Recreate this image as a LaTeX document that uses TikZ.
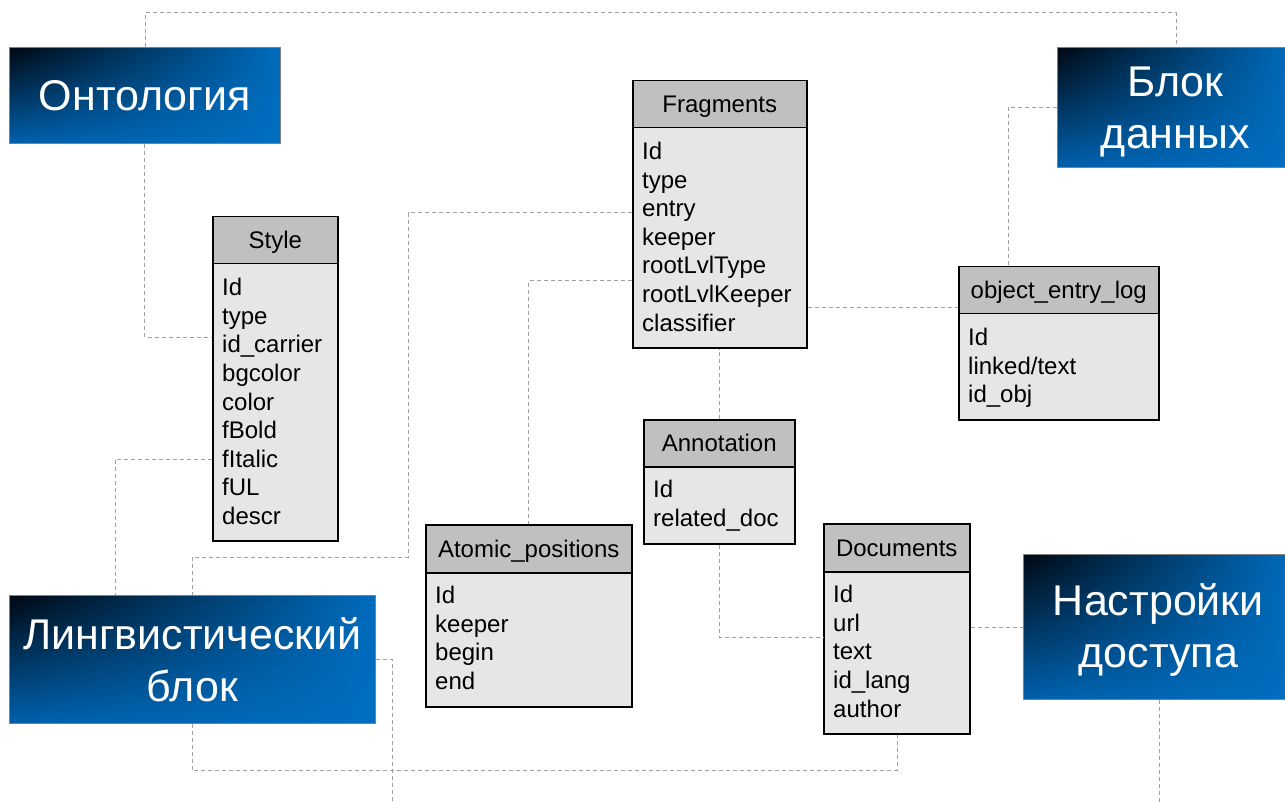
\documentclass[tikz,border=0pt]{standalone}
\usepackage{fontspec}
\setmainfont{Liberation Sans}
\usetikzlibrary{calc,shadings}
\definecolor{hdrgray}{RGB}{192,192,192}
\definecolor{bodygray}{RGB}{230,230,230}
\definecolor{conngray}{RGB}{160,160,160}
\definecolor{bul}{RGB}{0,8,18}
\definecolor{bur}{RGB}{0,108,190}
\definecolor{bll}{RGB}{0,96,172}
\definecolor{blr}{RGB}{0,110,192}
\begin{document}
\begin{tikzpicture}[x=1pt,y=-1pt,
  tblhead/.style={draw=black, line width=1.5pt, fill=hdrgray, anchor=north west, inner sep=0pt, minimum height=47pt, text height=17.2pt, text depth=0pt, font=\fontsize{24}{28.6}\selectfont},
  tblbody/.style={draw=black, line width=1.5pt, fill=bodygray, anchor=north west, inner sep=0pt},
  rowtext/.style={anchor=base west, inner sep=0pt, font=\fontsize{24}{28.6}\selectfont},
  blockbox/.style={draw=gray, line width=0.8pt, anchor=north west, upper left=bul, upper right=bur, lower left=bll, lower right=blr, text=white, align=center, inner sep=0pt, font=\fontsize{43}{52}\selectfont},
  conn/.style={draw=conngray, line width=1pt, dash pattern=on 4pt off 3pt}]
\useasboundingbox (0,0) rectangle (1285,802);

% blue blocks
\node[blockbox, minimum width=271pt, minimum height=96pt] (onto) at (9,47) {Онтология};
\node[blockbox, minimum width=236pt, minimum height=120pt] (blok) at (1057,47) {\rule{0pt}{38pt}Блок\\данных};
\node[blockbox, minimum width=366pt, minimum height=128pt] (ling) at (9,595) {Лингвистический\\блок};
\node[blockbox, minimum width=270pt, minimum height=145pt] (nast) at (1023,554) {\rule{0pt}{38pt}Настройки\\доступа};

% Style
\node[tblhead, minimum width=125pt] (styH) at (212,216) {Style};
\node[tblbody, minimum width=125pt, minimum height=277pt] (styB) at (212,263) {};
\foreach \t [count=\i] in {Id,type,id\_carrier,bgcolor,color,fBold,fItalic,fUL,descr}
  \node[rowtext] (sty-\i) at (222,{263+32.6+(\i-1)*28.6}) {\t};

% Fragments
\node[tblhead, minimum width=174pt] (fraH) at (632,80) {Fragments};
\node[tblbody, minimum width=174pt, minimum height=220pt] (fraB) at (632,127) {};
\foreach \t [count=\i] in {Id,type,entry,keeper,rootLvlType,rootLvlKeeper,classifier}
  \node[rowtext] (fra-\i) at (642,{127+32.6+(\i-1)*28.6}) {\t};

% object_entry_log
\node[tblhead, minimum width=200pt] (oelH) at (958,266) {object\_entry\_log};
\node[tblbody, minimum width=200pt, minimum height=106pt] (oelB) at (958,313) {};
\foreach \t [count=\i] in {Id,{linked/text},id\_obj}
  \node[rowtext] (oel-\i) at (968,{313+32.6+(\i-1)*28.6}) {\t};

% Annotation
\node[tblhead, minimum width=151pt] (annH) at (643,419) {Annotation};
\node[tblbody, minimum width=151pt, minimum height=77pt] (annB) at (643,466) {};
\foreach \t [count=\i] in {Id,related\_doc}
  \node[rowtext] (ann-\i) at (653,{466+31.6+(\i-1)*28.6}) {\t};

% Atomic_positions
\node[tblhead, minimum width=206pt, minimum height=48pt] (atoH) at (425,524) {Atomic\_positions};
\node[tblbody, minimum width=206pt, minimum height=134pt] (atoB) at (425,572) {};
\foreach \t [count=\i] in {Id,keeper,begin,end}
  \node[rowtext] (ato-\i) at (435,{572+31.6+(\i-1)*28.6}) {\t};

% Documents
\node[tblhead, minimum width=146pt, minimum height=48pt] (docH) at (823,523) {Documents};
\node[tblbody, minimum width=146pt, minimum height=162pt] (docB) at (823,571) {};
\foreach \t [count=\i] in {Id,url,text,id\_lang,author}
  \node[rowtext] (doc-\i) at (833,{571+31.6+(\i-1)*28.6}) {\t};

% connectors
\draw[conn] ([xshift=0.5pt]onto.north) -- ++(0,-34) -| ([xshift=1pt]blok.north);
\draw[conn] (onto.south) |- ($(styB.north west)+(0,74)$);
\draw[conn] (blok.west) -| ($(oelH.north west)+(50,0)$);
\draw[conn] ($(fraB.north east)+(0,181)$) coordinate (f4) -- (f4 -| oelH.west);
\draw[conn] ($(fraB.north west)+(0,86)$) -- ++(-224,0) -- ++(0,344) -| (ling.north);
\draw[conn] ($(fraB.north west)+(0,154)$) -| (atoH.north);
\draw[conn] ($(styB.north west)+(0,196)$) -| ($(ling.north west)+(106,0)$);
\draw[conn] (annH.north) -- (annH.north |- fraB.south);
\draw[conn] (annB.south) |- ($(docB.north west)+(0,66)$);
\draw[conn] ($(docB.north east)+(0,56)$) coordinate (d10) -- (d10 -| nast.west);
\draw[conn] (ling.south) -- ++(0,47) -| ($(docB.south west)+(74,0)$);
\coordinate (lingEnd) at (392,802);
\draw[conn] (ling.east) -| (lingEnd);
\coordinate (nastEnd) at (1159,802);
\draw[conn] (nastEnd |- nast.south) -- (nastEnd);
\end{tikzpicture}
\end{document}
